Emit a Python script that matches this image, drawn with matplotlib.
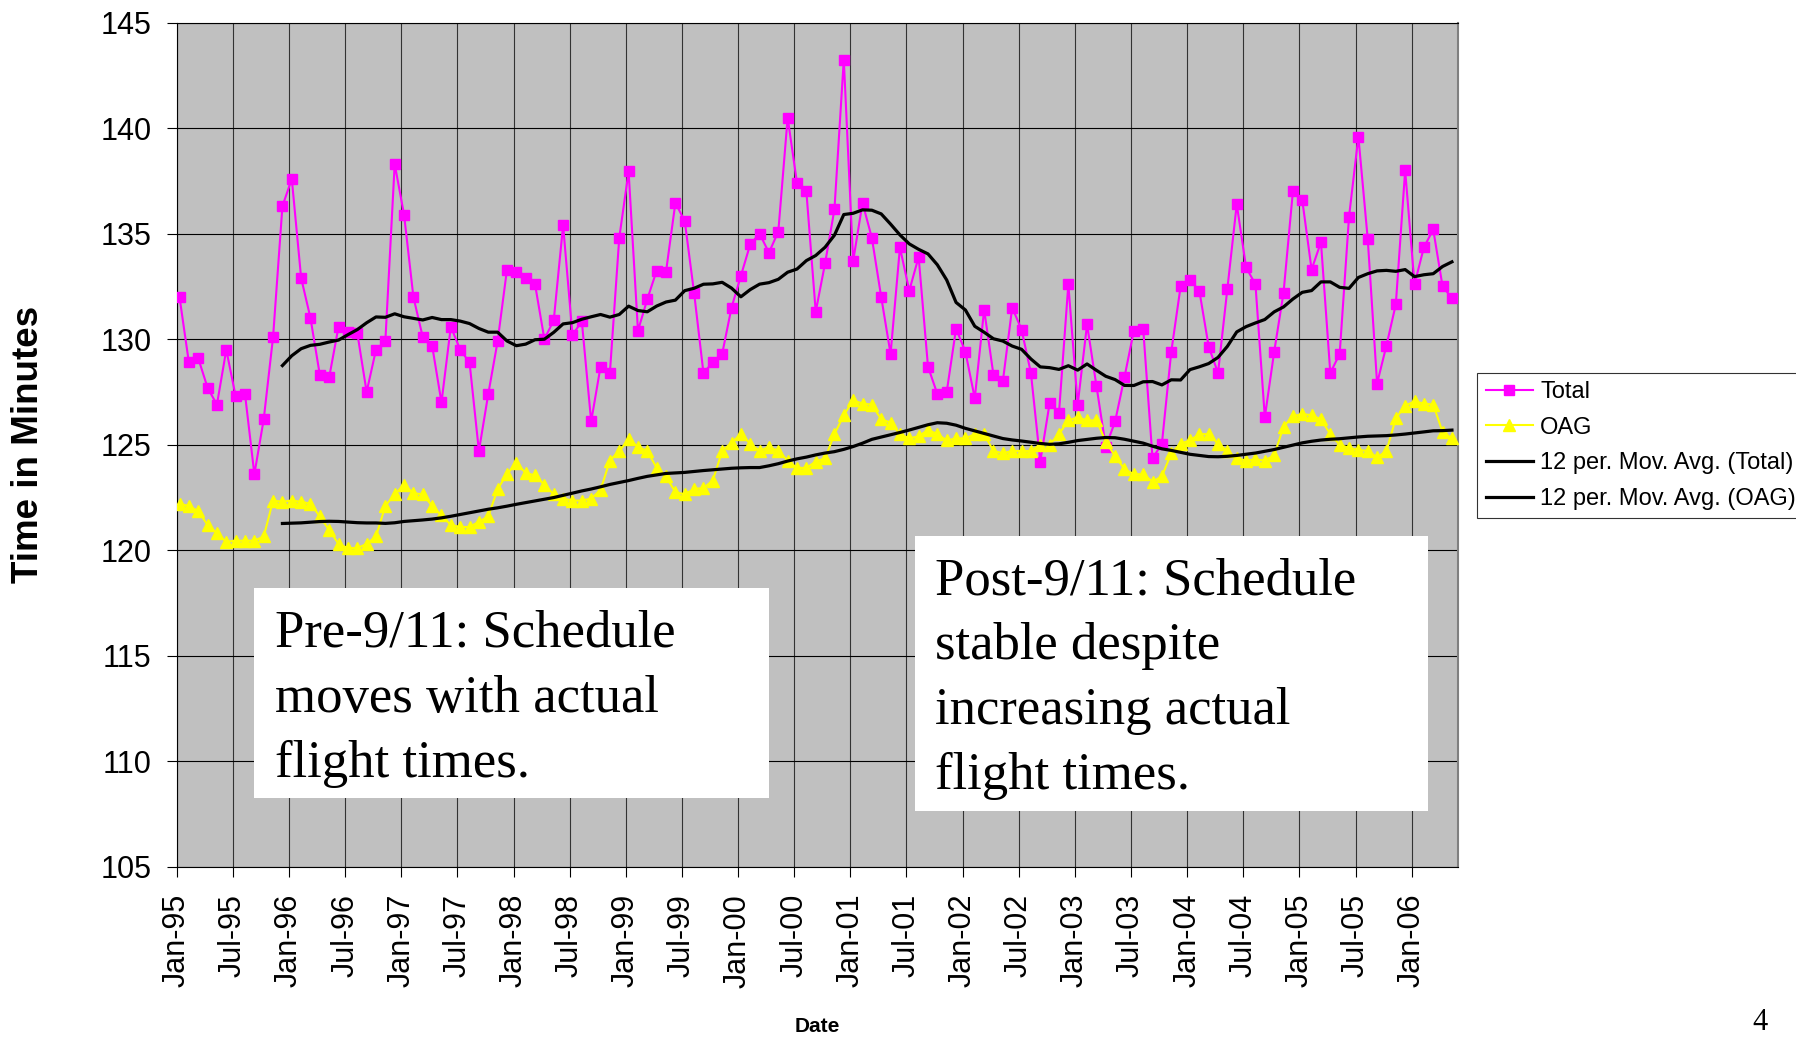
import numpy as np
import pandas as pd
import matplotlib
matplotlib.use('Agg')
import matplotlib.pyplot as plt
from matplotlib.patches import Rectangle

plt.rcParams['font.family'] = ['Liberation Sans', 'DejaVu Sans']

# monthly block times, Jan-95 .. May-06
total = [
    132.0, 128.9, 129.1, 127.7, 126.9, 129.5, 127.3, 127.4, 123.6, 126.2, 130.1, 136.3,
    137.6, 132.9, 131.0, 128.3, 128.2, 130.6, 130.35, 130.3, 127.5, 129.5, 129.9, 138.3,
    135.9, 132.0, 130.1, 129.7, 127.0, 130.6, 129.5, 128.9, 124.7, 127.4, 129.9, 133.3,
    133.2, 132.9, 132.6, 130.0, 130.9, 135.4, 130.2, 130.85, 126.1, 128.7, 128.4, 134.8,
    137.95, 130.4, 131.9, 133.25, 133.2, 136.46, 135.6, 132.2, 128.4, 128.9, 129.3, 131.5,
    133.0, 134.5, 135.0, 134.1, 135.1, 140.5, 137.4, 137.0, 131.3, 133.6, 136.15, 143.25,
    133.7, 136.46, 134.8, 132.0, 129.3, 134.35, 132.3, 133.9, 128.7, 127.4, 127.5, 130.5,
    129.4, 127.2, 131.4, 128.3, 128.0, 131.5, 130.45, 128.4, 124.2, 126.97, 126.5, 132.6,
    126.9, 130.7, 127.8, 124.9, 126.1, 128.2, 130.4, 130.5, 124.35, 125.05, 129.4, 132.5,
    132.8, 132.3, 129.65, 128.4, 132.4, 136.4, 133.4, 132.6, 126.3, 129.4, 132.2, 137.0,
    136.6, 133.3, 134.6, 128.4, 129.3, 135.8, 139.6, 134.75, 127.9, 129.7, 131.65, 138.0,
    132.6, 134.35, 135.2, 132.5, 131.95,
]
oag = [
    122.2, 122.1, 121.85, 121.2, 120.8, 120.4, 120.45, 120.45, 120.45, 120.65, 122.35, 122.3,
    122.35, 122.3, 122.2, 121.6, 120.95, 120.3, 120.1, 120.1, 120.3, 120.65, 122.1, 122.65,
    123.1, 122.7, 122.65, 122.1, 121.65, 121.2, 121.1, 121.1, 121.35, 121.6, 122.9, 123.6,
    124.15, 123.65, 123.55, 123.1, 122.65, 122.45, 122.35, 122.35, 122.45, 122.85, 124.25, 124.7,
    125.25, 124.9, 124.7, 123.9, 123.5, 122.75, 122.65, 122.9, 122.95, 123.3, 124.7, 125.1,
    125.5, 125.05, 124.7, 124.9, 124.7, 124.25, 123.9, 123.9, 124.2, 124.35, 125.5, 126.4,
    127.1, 126.95, 126.9, 126.2, 126.05, 125.5, 125.3, 125.4, 125.7, 125.5, 125.2, 125.3,
    125.3, 125.5, 125.5, 124.7, 124.6, 124.7, 124.7, 124.7, 125.0, 125.0, 125.5, 126.15,
    126.3, 126.15, 126.15, 125.15, 124.45, 123.85, 123.6, 123.6, 123.25, 123.5, 124.6, 125.05,
    125.2, 125.5, 125.5, 125.05, 124.7, 124.35, 124.25, 124.3, 124.25, 124.5, 125.85, 126.35,
    126.45, 126.4, 126.2, 125.5, 125.0, 124.85, 124.75, 124.7, 124.4, 124.7, 126.25, 126.85,
    127.05, 126.95, 126.9, 125.6, 125.3,
]
labels = ['Total', 'OAG', '12 per. Mov. Avg. (Total)', '12 per. Mov. Avg. (OAG)']
tick_dates = pd.date_range('1995-01-01', '2006-01-01', freq='6MS')
tick_labels = [d.strftime('%b-%y') for d in tick_dates]

# 12 month trailing moving averages (Excel trendline)
total_ma = pd.Series(total).rolling(12).mean()
oag_ma = pd.Series(oag).rolling(12).mean()

x = np.arange(len(total)) + 0.3

fig = plt.figure(figsize=(17.96, 10.37), dpi=100)
ax = fig.add_axes([176.7 / 1796, 1 - 866.7 / 1037, (1458.3 - 176.7) / 1796, (866.7 - 22.7) / 1037])
ax.set_facecolor('#c0c0c0')

ax.plot(x, total, color='#ff00ff', lw=1.5, marker='s', ms=6.5, label=labels[0], zorder=3)
ax.plot(x, oag, color='#ffff00', lw=1.5, marker='^', ms=8, label=labels[1], zorder=3)
ax.plot(x, total_ma, color='black', lw=2.3, label=labels[2], zorder=4)
ax.plot(x, oag_ma, color='black', lw=2.3, label=labels[3], zorder=4)

ax.set_xlim(0, 136.98)
ax.set_ylim(105, 145)
ax.set_yticks(np.arange(105, 146, 5))
ax.set_xticks(np.arange(0, 6 * len(tick_labels), 6))
ax.set_xticklabels(tick_labels, rotation=90)
ax.tick_params(axis='y', labelsize=22, length=7, width=0.8, pad=11)
ax.tick_params(axis='x', labelsize=22, length=7, width=0.8, pad=12.5)
ax.set_axisbelow(True)
ax.grid(axis='y', color='black', lw=0.8)
ax.grid(axis='x', color='#333333', lw=0.8)
for side in ['left', 'bottom', 'top']:
    ax.spines[side].set_color('black')
    ax.spines[side].set_linewidth(0.8)
ax.spines['right'].set_color('#808080')
ax.spines['right'].set_linewidth(1.5)

# annotation boxes: box corners and last-line baseline, in pixels
boxes = [
    ((254.3, 587.6, 768.6, 798.3), (275, 776.6), 'Pre-9/11: Schedule\nmoves with actual\nflight times.'),
    ((915.2, 536.0, 1428.3, 811.0), (934.6, 789.0), 'Post-9/11: Schedule\nstable despite\nincreasing actual\nflight times.'),
]
for (x0, y0, x1, y1), (tx, ty), txt in boxes:
    ax.add_patch(Rectangle((x0 / 1796, 1 - y1 / 1037), (x1 - x0) / 1796, (y1 - y0) / 1037,
                           transform=fig.transFigure, facecolor='white', edgecolor='none', zorder=5))
    ax.text(tx / 1796, 1 - ty / 1037, txt, transform=fig.transFigure, family='Liberation Serif',
            fontsize=38, va='baseline', ha='left', linespacing=1.455, zorder=6)

fig.text(29 / 1796, 1 - 444.7 / 1037, 'Time in Minutes', rotation=90, ha='center', va='center',
         fontsize=26.5, fontweight='bold')
fig.text(817.5 / 1796, 1 - 1026 / 1037, 'Date', ha='center', va='center', fontsize=15, fontweight='bold')
fig.text(1760 / 1796, 1 - 1023 / 1037, '4', ha='center', va='center', fontsize=22, family='Liberation Serif')

leg = fig.legend(loc='upper left', bbox_to_anchor=(1477.3 / 1796, 1 - 372.7 / 1037), fontsize=17,
                 frameon=True, fancybox=False, borderpad=0.35, labelspacing=0.58, handlelength=2.0,
                 handletextpad=0.32, numpoints=1, borderaxespad=0)
leg.get_frame().set_edgecolor('black')
leg.get_frame().set_linewidth(0.8)

fig.savefig('out.png', dpi=100)
